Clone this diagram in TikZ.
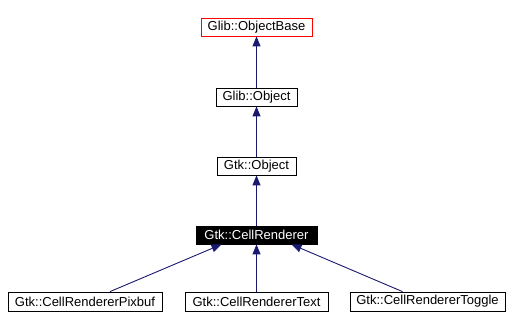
\documentclass[tikz,border=0pt]{standalone}
\usepackage{fontspec}
\setmainfont{Liberation Sans}
\usetikzlibrary{arrows.meta}
\begin{document}
\begin{tikzpicture}[x=1pt,y=-1pt,
  box/.style={draw=black,line width=0.8pt,fill=white,inner sep=0pt,font=\fontsize{13}{14}\selectfont},
  inh/.style={draw=midnightblue,line width=0.9pt,-{Triangle[length=10pt,width=8pt]}}]
\definecolor{midnightblue}{HTML}{191970}
\useasboundingbox (0,0) rectangle (510,332);
\node[box,draw=red,minimum width=111pt,minimum height=18pt] (ob) at (256.5,27) {Glib::ObjectBase};
\node[box,minimum width=81pt,minimum height=18pt] (go) at (256.5,97) {Glib::Object};
\node[box,minimum width=79pt,minimum height=18pt] (to) at (256.5,166) {Gtk::Object};
\node[box,fill=black,text=white,minimum width=121pt,minimum height=18pt] (cr) at (256.5,235) {Gtk::CellRenderer};
\node[box,minimum width=154pt,minimum height=19pt] (pix) at (85,301.5) {Gtk::CellRendererPixbuf};
\node[box,minimum width=143pt,minimum height=19pt] (txt) at (256.5,301.5) {Gtk::CellRendererText};
\node[box,minimum width=155pt,minimum height=19pt] (tog) at (427.5,301.5) {Gtk::CellRendererToggle};
\draw[inh] (go) -- (ob);
\draw[inh] (to) -- (go);
\draw[inh] (cr) -- (to);
\draw[inh] ([xshift=25pt]pix.north) -- ([xshift=-35pt]cr.south);
\draw[inh] (txt) -- (cr);
\draw[inh] ([xshift=-25pt]tog.north) -- ([xshift=35pt]cr.south);
\end{tikzpicture}
\end{document}
